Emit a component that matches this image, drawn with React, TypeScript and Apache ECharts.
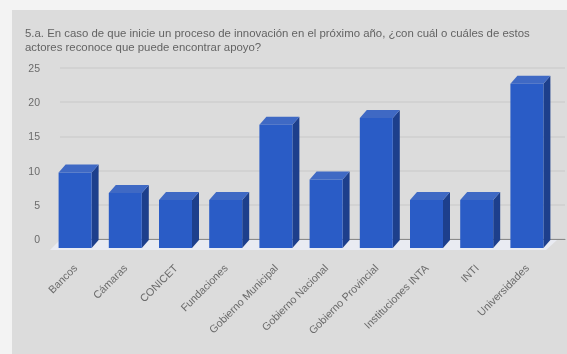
import React, { useEffect, useRef } from "react";
import * as echarts from "echarts";

const titleLines = [
  "5.a. En caso de que inicie un proceso de innovación en el próximo año, ¿con cuál o cuáles de estos",
  "actores reconoce que puede encontrar apoyo?",
];
const categories = [
  "Bancos",
  "Cámaras",
  "CONICET",
  "Fundaciones",
  "Gobierno Municipal",
  "Gobierno Nacional",
  "Gobierno Provincial",
  "Instituciones INTA",
  "INTI",
  "Universidades",
];
const seriesValues = [10, 7, 6, 6, 17, 9, 18, 6, 6, 23];
const yTicks = { min: 0, max: 25, interval: 5 };

const FRONT_W = 33;
const DX = 7;
const DY = 8;

export default function App() {
  const ref = useRef<HTMLDivElement>(null);
  useEffect(() => {
    const chart = echarts.init(ref.current!, null, { renderer: "svg" });
    chart.setOption({
      animation: false,
      backgroundColor: "#f3f3f3",
      graphic: [
        { type: "rect", z: -10, shape: { x: 12, y: 10, width: 555, height: 344 }, style: { fill: "#dcdcdc" } },
        {
          type: "polygon",
          z: 1,
          shape: { points: [[50, 250], [546, 250], [557, 240], [60, 240]] },
          style: { fill: "#e9ebf2" },
        },
      ],
      title: {
        text: titleLines.join("\n"),
        left: 20,
        top: 21,
        textStyle: { fontFamily: "Liberation Sans", fontSize: 11.4, fontWeight: "normal", color: "#636363", lineHeight: 14 },
      },
      grid: [
        { left: 60, right: 2, top: 68, height: 171 },
        { left: 50, width: 502, top: 68, height: 171 },
      ],
      xAxis: [
        {
          type: "category",
          gridIndex: 0,
          data: categories,
          axisLine: { show: true, lineStyle: { color: "#8a8a8a", width: 1 } },
          axisTick: { show: false },
          axisLabel: { show: false },
        },
        {
          type: "category",
          gridIndex: 1,
          data: categories,
          axisLine: { show: false },
          axisTick: { show: false },
          axisLabel: {
            rotate: 45,
            interval: 0,
            margin: 27,
            fontFamily: "Liberation Sans",
            fontSize: 10.7,
            color: "#6b6b6b",
          },
        },
      ],
      yAxis: [
        {
          type: "value",
          gridIndex: 0,
          min: yTicks.min,
          max: yTicks.max,
          interval: yTicks.interval,
          axisLine: { show: false },
          axisTick: { show: false },
          axisLabel: { margin: 20, fontFamily: "Liberation Sans", fontSize: 10.5, color: "#6b6b6b" },
          splitLine: { lineStyle: { color: "#cfcfcf", width: 1.5 } },
        },
        { type: "value", gridIndex: 1, min: yTicks.min, max: yTicks.max, interval: yTicks.interval, show: false },
      ],
      series: [
        {
          type: "custom",
          xAxisIndex: 1,
          yAxisIndex: 1,
          data: seriesValues.map((v, i) => [i, v]),
          encode: { x: 0, y: 1 },
          z: 5,
          renderItem: (_p: any, api: any) => {
            const [cx, top0] = api.coord([api.value(0), api.value(1)]);
            const [, base0] = api.coord([api.value(0), 0]);
            const l = cx - FRONT_W / 2;
            const r = cx + FRONT_W / 2;
            const t = top0 + 2;
            const b = base0 + 9;
            return {
              type: "group",
              children: [
                { type: "polygon", shape: { points: [[r, t], [r + DX, t - DY], [r + DX, b - DY], [r, b]] }, style: { fill: "#1d3f8c" } },
                { type: "polygon", shape: { points: [[l, t], [l + DX, t - DY], [r + DX, t - DY], [r, t]] }, style: { fill: "#3f69c4" } },
                { type: "rect", shape: { x: l, y: t, width: FRONT_W, height: b - t }, style: { fill: "#2a5cc6" } },
              ],
            };
          },
        },
      ],
    });
    return () => chart.dispose();
  }, []);
  return <div ref={ref} style={{ position: "fixed", left: 0, top: 0, width: 567, height: 354, filter: "blur(0.6px)" }} />;
}
